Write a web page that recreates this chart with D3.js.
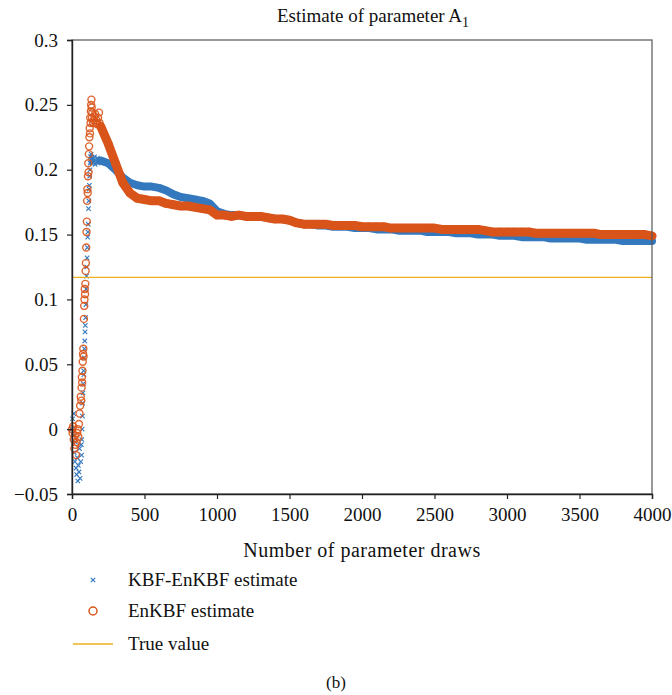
<!DOCTYPE html>
<html>
<head>
<meta charset="utf-8">
<script src="https://cdn.jsdelivr.net/npm/d3@7"></script>
<style>
  body { margin: 0; background: #fff; }
  svg text { font-family: "Liberation Serif", "Times New Roman", Times, "DejaVu Serif", serif; fill: #111; }
</style>
</head>
<body>
<div id="chart"></div>
<script>
// early draws (individual markers)
var earlyDraws = [0, 4, 8, 12, 16, 20, 24, 28, 32, 36, 40, 44, 48, 52, 56, 60, 64, 66, 68, 70, 72, 74, 76, 78, 80, 82, 84, 86, 88, 90, 92, 94, 96, 98, 100, 102, 104, 106, 108, 110, 112, 114, 116, 118, 120, 122, 124, 126, 128, 130, 132, 134, 136, 138, 140, 145, 150, 155, 160, 165, 170, 175, 180, 186, 190, 195];
var kbfEarly = [0.000, 0.008, -0.005, 0.012, -0.018, -0.025, -0.010, -0.030, -0.035, -0.022, -0.040, -0.028, -0.033, -0.015, -0.038, -0.025, -0.012, -0.020, -0.008, 0.000, 0.010, 0.020, 0.028, 0.035, 0.045, 0.042, 0.055, 0.062, 0.068, 0.075, 0.080, 0.086, 0.096, 0.108, 0.118, 0.125, 0.132, 0.140, 0.148, 0.152, 0.158, 0.170, 0.176, 0.185, 0.188, 0.195, 0.200, 0.205, 0.210, 0.206, 0.212, 0.208, 0.210, 0.205, 0.209, 0.207, 0.206, 0.210, 0.204, 0.207, 0.206, 0.209, 0.205, 0.208, 0.206, 0.207];
var enkbfEarly = [0.000, -0.003, 0.002, -0.008, -0.015, -0.005, -0.012, -0.020, -0.010, -0.003, 0.000, -0.006, 0.004, 0.012, 0.018, 0.025, 0.022, 0.032, 0.040, 0.036, 0.045, 0.052, 0.058, 0.062, 0.056, 0.085, 0.095, 0.100, 0.108, 0.104, 0.112, 0.122, 0.128, 0.140, 0.152, 0.160, 0.176, 0.185, 0.182, 0.195, 0.205, 0.198, 0.212, 0.218, 0.225, 0.232, 0.228, 0.240, 0.236, 0.245, 0.250, 0.254, 0.248, 0.240, 0.244, 0.236, 0.238, 0.241, 0.243, 0.236, 0.238, 0.235, 0.240, 0.244, 0.236, 0.234];

// later draws (dense band)
var lateDraws = [200, 250, 300, 350, 400, 450, 500, 550, 600, 650, 700, 750, 800, 850, 900, 950, 1000, 1050, 1100, 1150, 1200, 1250, 1300, 1350, 1400, 1450, 1500, 1550, 1600, 1650, 1700, 1750, 1800, 1850, 1900, 1950, 2000, 2050, 2100, 2150, 2200, 2250, 2300, 2350, 2400, 2450, 2500, 2550, 2600, 2650, 2700, 2750, 2800, 2850, 2900, 2950, 3000, 3050, 3100, 3150, 3200, 3250, 3300, 3350, 3400, 3450, 3500, 3550, 3600, 3650, 3700, 3750, 3800, 3850, 3900, 3950, 4000];
var kbfLate = [0.207, 0.205, 0.200, 0.194, 0.190, 0.188, 0.187, 0.187, 0.186, 0.184, 0.181, 0.179, 0.178, 0.177, 0.176, 0.174, 0.168, 0.166, 0.165, 0.165, 0.164, 0.164, 0.164, 0.163, 0.162, 0.162, 0.161, 0.159, 0.158, 0.158, 0.157, 0.157, 0.156, 0.156, 0.156, 0.155, 0.155, 0.155, 0.154, 0.154, 0.154, 0.153, 0.153, 0.153, 0.153, 0.152, 0.152, 0.152, 0.152, 0.151, 0.151, 0.151, 0.150, 0.150, 0.150, 0.149, 0.149, 0.149, 0.148, 0.148, 0.148, 0.148, 0.147, 0.147, 0.147, 0.147, 0.147, 0.146, 0.146, 0.146, 0.146, 0.146, 0.145, 0.145, 0.145, 0.145, 0.145];
var enkbfLate = [0.233, 0.220, 0.205, 0.190, 0.182, 0.178, 0.177, 0.176, 0.176, 0.174, 0.173, 0.172, 0.172, 0.171, 0.170, 0.169, 0.165, 0.165, 0.164, 0.165, 0.164, 0.164, 0.164, 0.163, 0.162, 0.162, 0.161, 0.159, 0.158, 0.158, 0.158, 0.158, 0.157, 0.157, 0.157, 0.157, 0.156, 0.156, 0.156, 0.156, 0.155, 0.155, 0.155, 0.155, 0.155, 0.155, 0.155, 0.154, 0.154, 0.154, 0.154, 0.154, 0.154, 0.153, 0.152, 0.152, 0.152, 0.152, 0.152, 0.152, 0.151, 0.151, 0.151, 0.151, 0.151, 0.151, 0.151, 0.151, 0.151, 0.150, 0.150, 0.150, 0.150, 0.150, 0.150, 0.150, 0.149];

var trueValue = 0.117;
var xTicks = [0, 500, 1000, 1500, 2000, 2500, 3000, 3500, 4000];
var yTicks = [-0.05, 0, 0.05, 0.1, 0.15, 0.2, 0.25, 0.3];
var legendLabels = ["KBF-EnKBF estimate", "EnKBF estimate", "True value"];

var blue = "#3478be";
var orange = "#d9541a";
var yellow = "#edb120";
var serif = "'Liberation Serif', 'Times New Roman', Times, 'DejaVu Serif', serif";

var W = 672, H = 695;
var margin = {top: 40, right: 20, bottom: 201, left: 72};
var width = W - margin.left - margin.right;
var height = H - margin.top - margin.bottom;

var svg = d3.select("#chart").append("svg")
  .attr("width", W)
  .attr("height", H);

var g = svg.append("g").attr("transform", "translate(" + margin.left + "," + margin.top + ")");

var x = d3.scaleLinear().domain([0, 4000]).range([0, width]);
var y = d3.scaleLinear().domain([-0.05, 0.3]).range([height, 0]);

function zipPts(xs, ys) {
  return xs.map(function(d, i) { return {x: d, y: ys[i]}; });
}
var kbfE = zipPts(earlyDraws, kbfEarly), enE = zipPts(earlyDraws, enkbfEarly);
var kbfL = zipPts(lateDraws, kbfLate), enL = zipPts(lateDraws, enkbfLate);

var line = d3.line().x(function(d) { return x(d.x); }).y(function(d) { return y(d.y); });

function cross(sel, s) {
  sel.attr("d", function(d) {
    var cx = x(d.x), cy = y(d.y);
    return "M" + (cx - s) + "," + (cy - s) + "L" + (cx + s) + "," + (cy + s) +
      "M" + (cx - s) + "," + (cy + s) + "L" + (cx + s) + "," + (cy - s);
  });
}

// KBF-EnKBF series
g.append("path").datum(kbfL)
  .attr("d", line).attr("fill", "none")
  .attr("stroke", blue).attr("stroke-width", 8)
  .attr("stroke-linecap", "round").attr("stroke-linejoin", "round");

g.selectAll(".kbf").data(kbfE.concat(kbfL)).enter().append("path")
  .attr("class", "kbf").call(cross, 2.2)
  .attr("stroke", blue).attr("stroke-width", 1.1).attr("fill", "none");

// EnKBF series
g.append("path").datum(enL)
  .attr("d", line).attr("fill", "none")
  .attr("stroke", orange).attr("stroke-width", 9)
  .attr("stroke-linecap", "round").attr("stroke-linejoin", "round");

g.selectAll(".enkbf").data(enE.concat(enL)).enter().append("circle")
  .attr("class", "enkbf")
  .attr("cx", function(d) { return x(d.x); })
  .attr("cy", function(d) { return y(d.y); })
  .attr("r", 3.5)
  .attr("fill", "none").attr("stroke", orange).attr("stroke-width", 1.4)
  .attr("stroke-opacity", 0.9);

// true value
g.append("line")
  .attr("x1", 0).attr("x2", width)
  .attr("y1", y(trueValue)).attr("y2", y(trueValue))
  .attr("stroke", yellow).attr("stroke-width", 1.3);

// frame
g.append("rect").attr("width", width).attr("height", height)
  .attr("fill", "none").attr("stroke", "#555").attr("stroke-width", 1.2);

// axes
var xAxis = g.append("g").attr("transform", "translate(0," + height + ")")
  .call(d3.axisBottom(x).tickValues(xTicks).tickSize(5).tickPadding(9).tickFormat(d3.format("d")));
var yAxis = g.append("g")
  .call(d3.axisLeft(y).tickValues(yTicks).tickSize(5).tickPadding(9)
    .tickFormat(function(d) { return d === 0 ? "0" : String(+d.toFixed(2)).replace("-", "\u2212"); }));

[xAxis, yAxis].forEach(function(a) {
  a.attr("font-family", serif);
  a.select(".domain").attr("stroke", "#222").attr("stroke-width", 1.4);
  a.selectAll(".tick line").attr("stroke", "#222").attr("stroke-width", 1.2);
  a.selectAll(".tick text").style("font-family", serif).style("font-size", "19px").attr("fill", "#111");
});

// title
var title = svg.append("text")
  .attr("x", 373).attr("y", 22)
  .attr("text-anchor", "middle").style("font-family", serif).style("font-size", "19px");
title.append("tspan").text("Estimate of parameter A");
title.append("tspan").text("1").attr("dy", 5).style("font-size", "14px");

// x label
svg.append("text")
  .attr("x", margin.left + width / 2).attr("y", 557)
  .attr("text-anchor", "middle").style("font-family", serif).style("font-size", "20px").style("letter-spacing", "0.5px")
  .text("Number of parameter draws");

// legend
var legY = [580, 611, 644];
var leg = svg.append("g");
leg.append("path")
  .attr("d", "M" + (93 - 2.2) + "," + (legY[0] - 2.2) + "L" + (93 + 2.2) + "," + (legY[0] + 2.2) +
    "M" + (93 - 2.2) + "," + (legY[0] + 2.2) + "L" + (93 + 2.2) + "," + (legY[0] - 2.2))
  .attr("stroke", blue).attr("stroke-width", 1.2);
leg.append("circle").attr("cx", 93).attr("cy", legY[1]).attr("r", 4)
  .attr("fill", "none").attr("stroke", orange).attr("stroke-width", 1.5);
leg.append("line").attr("x1", 73).attr("x2", 113).attr("y1", legY[2]).attr("y2", legY[2])
  .attr("stroke", yellow).attr("stroke-width", 1.5);
leg.selectAll(".lt").data(legendLabels).enter().append("text")
  .attr("class", "lt")
  .attr("x", 128).attr("y", function(d, i) { return legY[i] + 6; })
  .style("font-family", serif).style("font-size", "19px")
  .text(function(d) { return d; });

// panel label
svg.append("text").attr("x", 336).attr("y", 688)
  .attr("text-anchor", "middle").style("font-family", serif).style("font-size", "17px").text("(b)");
</script>
</body>
</html>
